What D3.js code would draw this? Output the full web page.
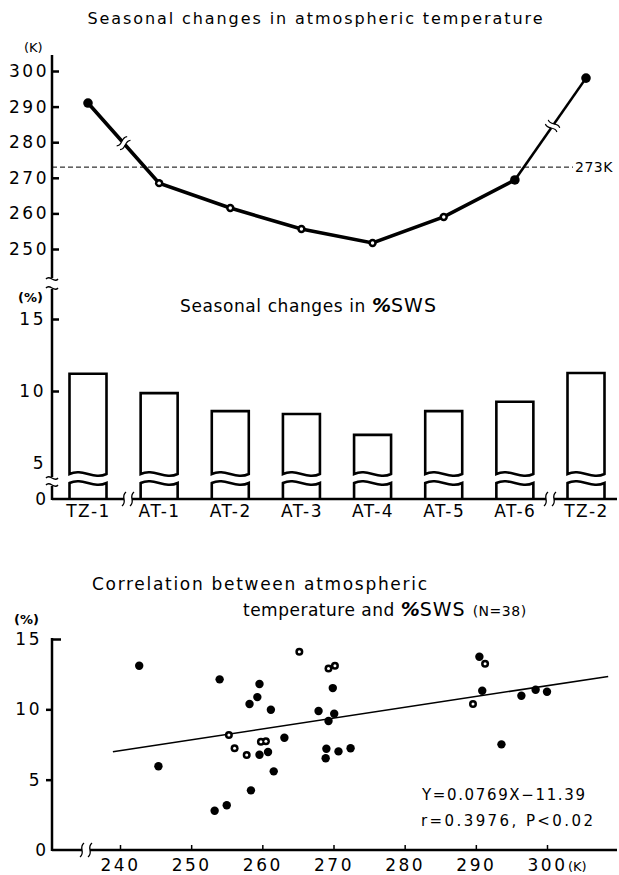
<!DOCTYPE html>
<html>
<head>
<meta charset="utf-8">
<script src="https://cdn.jsdelivr.net/npm/d3@7"></script>
<style>
  body { margin: 0; background: #fff; }
  text { font-family: "DejaVu Sans", sans-serif; fill: #000; }
</style>
</head>
<body>
<div id="chart"></div>
<script>
// ---- data ----
var categories = ["TZ-1", "AT-1", "AT-2", "AT-3", "AT-4", "AT-5", "AT-6", "TZ-2"];
var tempK = [291.0, 268.5, 261.5, 255.6, 251.7, 259.0, 269.4, 298.0];
var tempFilled = [true, false, false, false, false, false, true, true];
var swsPct = [11.2, 9.85, 8.6, 8.4, 6.95, 8.6, 9.25, 11.25];

var tempTicks = [250, 260, 270, 280, 290, 300];
var swsTicks = [5, 10, 15];
var freezing = 273;

var scatterX = [242.7, 245.4, 254.0, 258.2, 259.3, 259.6, 261.2, 255.3, 256.1, 257.8,
                259.6, 259.8, 260.5, 260.8, 261.6, 263.1, 258.4, 253.3, 255.0, 265.2,
                269.3, 270.2, 269.9, 267.9, 270.1, 269.3, 269.0, 268.9, 270.7, 272.4,
                290.5, 291.3, 290.9, 289.6, 293.6, 296.4, 298.4, 300.0];
var scatterY = [13.10, 5.95, 12.13, 10.38, 10.87, 11.80, 9.97, 8.17, 7.23, 6.75,
                6.77, 7.70, 7.73, 6.97, 5.59, 7.98, 4.24, 2.79, 3.18, 14.09,
                12.91, 13.10, 11.51, 9.88, 9.69, 9.17, 7.20, 6.52, 7.01, 7.23,
                13.74, 13.24, 11.32, 10.38, 7.51, 10.97, 11.39, 11.25];
var scatterOpen = [false, false, false, false, false, false, false, true, true, true,
                   false, true, true, false, false, false, false, false, false, true,
                   true, true, false, false, false, false, false, false, false, false,
                   false, true, false, true, false, false, false, false];
var corrXTicks = [240, 250, 260, 270, 280, 290, 300];
var corrYTicks = [5, 10, 15];
var fitSlope = 0.0769, fitIntercept = -11.39, fitFrom = 239, fitTo = 308.6;

// ---- svg ----
var W = 619, H = 875, axisX = 52;
var svg = d3.select("#chart").append("svg")
    .attr("width", W)
    .attr("height", H);

var x = d3.scalePoint().domain(categories).range([88, 586]);

function vline(x0, y0, y1, w) {
  svg.append("line").attr("x1", x0).attr("x2", x0).attr("y1", y0).attr("y2", y1)
    .attr("stroke", "#000").attr("stroke-width", w || 2.5);
}
function hline(y0, x0, x1, w) {
  svg.append("line").attr("x1", x0).attr("x2", x1).attr("y1", y0).attr("y2", y0)
    .attr("stroke", "#000").attr("stroke-width", w || 2.5);
}
// wavy break on a vertical axis
function vBreak(cx, cy) {
  svg.append("path")
    .attr("d", "M" + (cx - 6) + "," + cy + " C" + (cx - 2) + "," + (cy - 5) + " " + (cx + 2) + "," + (cy + 5) + " " + (cx + 6) + "," + cy)
    .attr("fill", "none").attr("stroke", "#000").attr("stroke-width", 1.4);
}
// wavy break on a horizontal axis
function hBreak(cx, cy) {
  svg.append("rect").attr("x", cx - 4).attr("y", cy - 3).attr("width", 8).attr("height", 6).attr("fill", "#fff");
  [-4, 4].forEach(function(o) {
    var bx = cx + o;
    svg.append("path")
      .attr("d", "M" + (bx + 2) + "," + (cy - 7) + " C" + (bx - 4) + "," + (cy - 2) + " " + (bx + 4) + "," + (cy + 2) + " " + (bx - 2) + "," + (cy + 7))
      .attr("fill", "none").attr("stroke", "#000").attr("stroke-width", 1.3);
  });
}
function styleAxis(g, size) {
  g.select(".domain").remove();
  g.selectAll(".tick line").attr("stroke", "#000").attr("stroke-width", 2.5);
  g.selectAll(".tick text").attr("font-size", size || 17).style("letter-spacing", "2.5px")
    .attr("font-family", "DejaVu Sans");
}

// ================= 1. temperature =================
svg.append("text").attr("x", 315).attr("y", 24).attr("text-anchor", "middle")
  .attr("font-size", 16).attr("textLength", 455).attr("lengthAdjust", "spacing")
  .text("Seasonal changes in atmospheric temperature");

var yT = d3.scaleLinear().domain([250, 300]).range([249, 71]);

svg.append("g").attr("transform", "translate(" + axisX + ",0)")
  .call(d3.axisLeft(yT).tickValues(tempTicks).tickSize(-7).tickPadding(3))
  .call(styleAxis);
svg.append("text").attr("x", 24).attr("y", 52).attr("font-size", 13).text("(K)");

vline(axisX, 55, 278);
vBreak(axisX, 279);
vBreak(axisX, 288);

// 273 K dashed reference
svg.append("line")
  .attr("x1", axisX).attr("x2", 573)
  .attr("y1", yT(freezing)).attr("y2", yT(freezing))
  .attr("stroke", "#000").attr("stroke-width", 1).attr("stroke-dasharray", "5,3");
svg.append("text").attr("x", 575).attr("y", yT(freezing) + 5).attr("font-size", 14)
  .style("letter-spacing", "0.5px").text("273K");

var line = d3.line().x(function(d, i) { return x(categories[i]); }).y(function(d) { return yT(d); });
svg.append("path").datum(tempK.slice(0, 7))
  .attr("d", line).attr("fill", "none").attr("stroke", "#000").attr("stroke-width", 3.6);
svg.append("path")
  .attr("d", d3.line()([[x(categories[6]), yT(tempK[6])], [x(categories[7]), yT(tempK[7])]]))
  .attr("fill", "none").attr("stroke", "#000").attr("stroke-width", 2.6);

// wavy breaks on the temperate-zone segments
function segBreak(i, j, t) {
  var x1 = x(categories[i]), y1 = yT(tempK[i]), x2 = x(categories[j]), y2 = yT(tempK[j]);
  var cx = x1 + (x2 - x1) * t, cy = y1 + (y2 - y1) * t;
  var ang = Math.atan2(y2 - y1, x2 - x1) * 180 / Math.PI;
  var g = svg.append("g").attr("transform", "translate(" + cx + "," + cy + ") rotate(" + ang + ")");
  g.append("rect").attr("x", -2.5).attr("y", -4).attr("width", 5).attr("height", 8).attr("fill", "#fff");
  [-2.5, 2.5].forEach(function(o) {
    g.append("path")
      .attr("d", "M" + o + ",-7 C" + (o - 4) + ",-2 " + (o + 4) + ",2 " + o + ",7")
      .attr("fill", "none").attr("stroke", "#000").attr("stroke-width", 1.2);
  });
}
segBreak(0, 1, 0.5);
segBreak(6, 7, 0.53);

svg.selectAll(".tpt").data(tempK).enter().append("circle")
  .attr("cx", function(d, i) { return x(categories[i]); })
  .attr("cy", function(d) { return yT(d); })
  .attr("r", function(d, i) { return tempFilled[i] ? 4.8 : 4.2; })
  .attr("fill", "#000");
tempK.forEach(function(d, i) {
  if (tempFilled[i]) return;
  svg.append("circle").attr("cx", x(categories[i])).attr("cy", yT(d)).attr("r", 1.7).attr("fill", "#fff");
});

// ================= 2. %SWS bars =================
var title2 = svg.append("text").attr("x", 180).attr("y", 312).attr("font-size", 17);
title2.append("tspan").style("letter-spacing", "0.6px").text("Seasonal changes in ");
title2.append("tspan").attr("font-weight", "bold").attr("font-style", "italic").attr("font-size", 19).text("%");
title2.append("tspan").attr("font-size", 19).style("letter-spacing", "1px").text("SWS");

var yS = d3.scaleLinear().domain([5, 15]).range([463, 319]);
var base = 499;

svg.append("g").attr("transform", "translate(" + axisX + ",0)")
  .call(d3.axisLeft(yS).tickValues(swsTicks).tickSize(-7).tickPadding(6))
  .call(styleAxis)
  .call(function(g) { g.selectAll(".tick").filter(function(d) { return d === 5; }).select("line").remove(); });
svg.append("text").attr("x", 46).attr("y", base + 6).attr("text-anchor", "end").attr("font-size", 17).text("0");
svg.append("text").attr("x", 18).attr("y", 302).attr("font-size", 13).attr("font-weight", "bold").text("(%)");

vline(axisX, 289, 477);
vBreak(axisX, 478);
vBreak(axisX, 485);
vline(axisX, 486, base + 1);

var bw = 37, breakTop = 474, breakLow = 483;
var bars = svg.selectAll(".bar").data(swsPct).enter().append("g");
bars.append("path")
  .attr("d", function(d, i) {
    var l = x(categories[i]) - bw / 2, r = l + bw, t = yS(d), y0 = breakTop;
    return "M" + l + "," + y0 + " L" + l + "," + t + " L" + r + "," + t + " L" + r + "," + y0 +
      " C" + (l + bw * 0.65) + "," + (y0 + 6) + " " + (l + bw * 0.35) + "," + (y0 - 6) + " " + l + "," + y0 + "Z";
  })
  .attr("fill", "#fff").attr("stroke", "#000").attr("stroke-width", 2.6);
bars.append("path")
  .attr("d", function(d, i) {
    var l = x(categories[i]) - bw / 2, r = l + bw, y1 = breakLow;
    return "M" + l + "," + base + " L" + l + "," + y1 +
      " C" + (l + bw * 0.35) + "," + (y1 - 6) + " " + (l + bw * 0.65) + "," + (y1 + 6) + " " + r + "," + y1 +
      " L" + r + "," + base;
  })
  .attr("fill", "#fff").attr("stroke", "#000").attr("stroke-width", 2.6);

hline(base, axisX, 617);
hBreak(128, base);
hBreak(550, base);

svg.append("g").attr("transform", "translate(0," + base + ")")
  .call(d3.axisBottom(x).tickSize(0).tickPadding(6))
  .call(styleAxis)
  .call(function(g) { g.selectAll(".tick text").style("letter-spacing", "1.5px"); });

// ================= 3. correlation =================
svg.append("text").attr("x", 92).attr("y", 590).attr("font-size", 17)
  .attr("textLength", 335).attr("lengthAdjust", "spacing")
  .text("Correlation between atmospheric");
var t3 = svg.append("text").attr("x", 243).attr("y", 616).attr("font-size", 17);
t3.append("tspan").style("letter-spacing", "0.5px").text("temperature and ");
t3.append("tspan").attr("font-weight", "bold").attr("font-style", "italic").attr("font-size", 19).text("%");
t3.append("tspan").attr("font-size", 19).style("letter-spacing", "1px").text("SWS ");
t3.append("tspan").attr("font-size", 14).style("letter-spacing", "0.5px").text("(N=38)");
svg.append("text").attr("x", 14).attr("y", 624).attr("font-size", 13).attr("font-weight", "bold").text("(%)");

var xC = d3.scaleLinear().domain([240, 300]).range([120, 547]);
var yC = d3.scaleLinear().domain([0, 15]).range([850, 639]);

svg.append("g").attr("transform", "translate(" + axisX + ",0)")
  .call(d3.axisLeft(yC).tickValues(corrYTicks).tickSize(6).tickPadding(4))
  .call(styleAxis)
  .call(function(g) {
    g.selectAll(".tick").filter(function(d) { return d === 15; }).select("line").attr("x2", 9);
  });
svg.append("text").attr("x", 46).attr("y", 856).attr("text-anchor", "end").attr("font-size", 17).text("0");
vline(axisX, 638, 851);

svg.append("g").attr("transform", "translate(0,850)")
  .call(d3.axisBottom(xC).tickValues(corrXTicks).tickSize(-5).tickPadding(9))
  .call(styleAxis)
  .call(function(g) { g.selectAll(".tick line").attr("stroke-width", 1.5); });
hline(850, axisX, 617);
hBreak(86, 850);
svg.append("text").attr("x", 568).attr("y", 871).attr("font-size", 13).text("(K)");

svg.append("line")
  .attr("x1", xC(fitFrom)).attr("y1", yC(fitSlope * fitFrom + fitIntercept))
  .attr("x2", xC(fitTo)).attr("y2", yC(fitSlope * fitTo + fitIntercept))
  .attr("stroke", "#000").attr("stroke-width", 1.5);

svg.selectAll(".spt").data(scatterX).enter().append("circle")
  .attr("cx", function(d) { return xC(d); })
  .attr("cy", function(d, i) { return yC(scatterY[i]); })
  .attr("r", function(d, i) { return scatterOpen[i] ? 4 : 4.2; })
  .attr("fill", "#000");
scatterX.forEach(function(d, i) {
  if (!scatterOpen[i]) return;
  svg.append("circle").attr("cx", xC(d)).attr("cy", yC(scatterY[i])).attr("r", 1.5).attr("fill", "#fff");
});

svg.append("text").attr("x", 422).attr("y", 800).attr("font-size", 15)
  .attr("textLength", 163).attr("lengthAdjust", "spacing").text("Y=0.0769X\u221211.39");
svg.append("text").attr("x", 421).attr("y", 826).attr("font-size", 15)
  .attr("textLength", 172).attr("lengthAdjust", "spacing").text("r=0.3976,  P<0.02");
</script>
</body>
</html>
